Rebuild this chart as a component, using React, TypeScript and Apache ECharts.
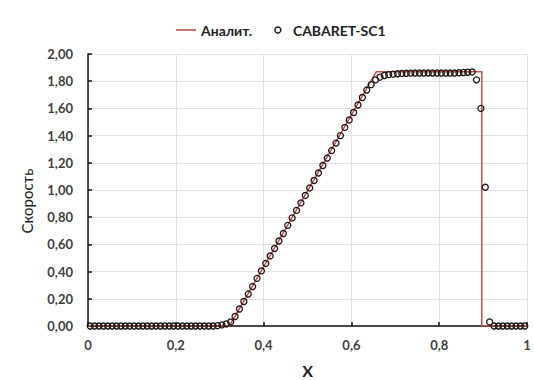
import React, { useEffect, useRef } from "react";
import * as echarts from "echarts";

const analytX = [0, 0.322, 0.657, 0.897, 0.897, 1];
const analytV = [0, 0, 1.87, 1.87, 0, 0];

const numX = [
  0.005, 0.015, 0.025, 0.035, 0.045, 0.055, 0.065, 0.075, 0.085, 0.095,
  0.105, 0.115, 0.125, 0.135, 0.145, 0.155, 0.165, 0.175, 0.185, 0.195,
  0.205, 0.215, 0.225, 0.235, 0.245, 0.255, 0.265, 0.275, 0.285, 0.295,
  0.305, 0.315, 0.325, 0.335, 0.345, 0.355, 0.365, 0.375, 0.385, 0.395,
  0.405, 0.415, 0.425, 0.435, 0.445, 0.455, 0.465, 0.475, 0.485, 0.495,
  0.505, 0.515, 0.525, 0.535, 0.545, 0.555, 0.565, 0.575, 0.585, 0.595,
  0.605, 0.615, 0.625, 0.635, 0.645, 0.655, 0.665, 0.675, 0.685, 0.695,
  0.705, 0.715, 0.725, 0.735, 0.745, 0.755, 0.765, 0.775, 0.785, 0.795,
  0.805, 0.815, 0.825, 0.835, 0.845, 0.855, 0.865, 0.875, 0.885, 0.895,
  0.905, 0.915, 0.925, 0.935, 0.945, 0.955, 0.965, 0.975, 0.985, 0.995,
];
const numV = [
  0, 0, 0, 0, 0, 0, 0, 0, 0, 0,
  0, 0, 0, 0, 0, 0, 0, 0, 0, 0,
  0, 0, 0, 0, 0, 0, 0, 0, 0, 0.003,
  0.008, 0.015, 0.03, 0.07, 0.125, 0.18, 0.235, 0.29, 0.35, 0.405,
  0.46, 0.515, 0.57, 0.625, 0.68, 0.74, 0.795, 0.85, 0.905, 0.96,
  1.015, 1.07, 1.125, 1.18, 1.235, 1.29, 1.345, 1.4, 1.46, 1.515,
  1.57, 1.625, 1.68, 1.735, 1.775, 1.81, 1.83, 1.842, 1.848, 1.852,
  1.855, 1.857, 1.858, 1.859, 1.86, 1.86, 1.86, 1.86, 1.86, 1.86,
  1.86, 1.86, 1.86, 1.86, 1.862, 1.864, 1.866, 1.868, 1.81, 1.6,
  1.02, 0.03, 0, 0, 0, 0, 0, 0, 0, 0,
];

const yTicks = ["0,00", "0,20", "0,40", "0,60", "0,80", "1,00", "1,20", "1,40", "1,60", "1,80", "2,00"];
const xTicks = ["0", "0,2", "0,4", "0,6", "0,8", "1"];

const FONT = "Lato, 'Open Sans', sans-serif";
const MARK = "#1e1414";

export default function App() {
  const ref = useRef<HTMLDivElement>(null);
  useEffect(() => {
    if (!ref.current) return;
    const chart = echarts.init(ref.current, undefined, { renderer: "svg" });
    chart.setOption({
      animation: false,
      backgroundColor: "#ffffff",
      textStyle: { fontFamily: FONT },
      legend: {
        top: 18,
        left: 171,
        itemGap: 22,
        itemWidth: 20,
        itemHeight: 6,
        textStyle: { fontFamily: FONT, fontWeight: "bold", fontSize: 14, color: "#222" },
        data: [
          { name: "Аналит.", icon: "path://M0,0 L20,0 L20,1.6 L0,1.6 Z" },
          {
            name: "CABARET-SC1",
            icon: "circle",
            itemStyle: { color: "rgba(255,255,255,0)", borderColor: MARK, borderWidth: 1.4 },
          },
        ],
      },
      grid: { left: 88, right: 7, top: 54, bottom: 54, containLabel: false, outerBoundsMode: "none" },
      xAxis: {
        type: "value",
        min: 0,
        max: 1,
        interval: 0.2,
        name: "X",
        nameLocation: "middle",
        nameGap: 36,
        nameTextStyle: { fontFamily: FONT, fontWeight: "bold", fontSize: 16, color: "#222" },
        axisLine: { lineStyle: { color: "#111", width: 1.5 } },
        axisTick: { show: true, inside: true, length: 4, lineStyle: { color: "#111", width: 1.5 } },
        axisLabel: {
          fontFamily: FONT,
          fontWeight: "bold",
          fontSize: 13,
          color: "#404040",
          margin: 12,
          formatter: (v: number) => xTicks[Math.round(v / 0.2)],
        },
        splitLine: { show: true, lineStyle: { color: "#e2e2e2", width: 1 } },
      },
      yAxis: {
        type: "value",
        min: 0,
        max: 2,
        interval: 0.2,
        name: "Скорость",
        nameLocation: "middle",
        nameGap: 54,
        nameTextStyle: { fontFamily: FONT, fontSize: 15, color: "#222", padding: [0, 0, 0, -22] },
        axisLine: { show: true, lineStyle: { color: "#111", width: 1.5 } },
        axisTick: { show: true, inside: true, length: 4, lineStyle: { color: "#111", width: 1.5 } },
        axisLabel: {
          fontFamily: FONT,
          fontWeight: "bold",
          fontSize: 13,
          color: "#404040",
          margin: 15,
          formatter: (v: number) => yTicks[Math.round(v / 0.2)],
        },
        splitLine: { show: true, lineStyle: { color: "#e2e2e2", width: 1 } },
      },
      series: [
        {
          name: "Аналит.",
          type: "line",
          symbol: "none",
          color: "#c0504d",
          lineStyle: { color: "#c0504d", width: 1.5 },
          data: analytX.map((x, i) => [x, analytV[i]]),
          z: 2,
        },
        {
          name: "CABARET-SC1",
          type: "scatter",
          symbol: "circle",
          symbolSize: 6,
          itemStyle: { color: "rgba(255,255,255,0)", borderColor: MARK, borderWidth: 1.3, opacity: 1 },
          data: numX.map((x, i) => [x, numV[i]]),
          z: 3,
        },
      ],
    });
    return () => chart.dispose();
  }, []);
  return (
    <div
      ref={ref}
      style={{ position: "fixed", left: 0, top: 0, width: 534, height: 380 }}
    />
  );
}
